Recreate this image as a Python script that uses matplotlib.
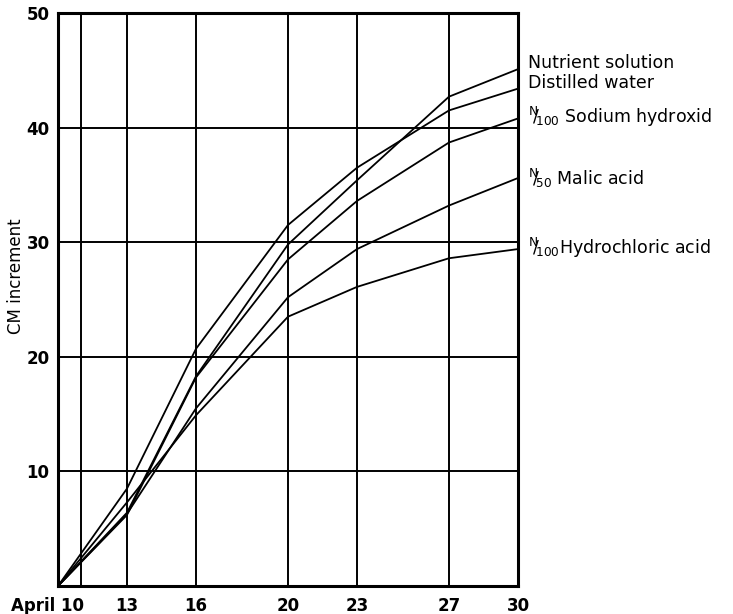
import matplotlib
matplotlib.use("Agg")
import matplotlib.pyplot as plt
import matplotlib.transforms as mtransforms

# ---- data ----
days = [10, 13, 16, 20, 23, 27, 30]
nutrient = [0, 6.4, 18.3, 29.8, 35.4, 42.7, 45.1]
distilled = [0, 8.5, 20.7, 31.5, 36.5, 41.5, 43.4]
sodium = [0, 6.2, 18.2, 28.5, 33.6, 38.7, 40.8]
malic = [0, 6.3, 15.5, 25.2, 29.4, 33.2, 35.6]
hcl = [0, 7.3, 14.9, 23.5, 26.1, 28.6, 29.4]

x_ticks = [11, 13, 16, 20, 23, 27, 30]
x_labels = ["April 10", "13", "16", "20", "23", "27", "30"]
y_ticks = [10, 20, 30, 40, 50]
y_labels = ["10", "20", "30", "40", "50"]

series = [nutrient, distilled, sodium, malic, hcl]
series_labels = [
    "Nutrient solution",
    "Distilled water",
    r"$^{\mathregular{N}}\!\!/\!_{\mathregular{100}}$ Sodium hydroxid",
    r"$^{\mathregular{N}}\!\!/\!_{\mathregular{50}}$ Malic acid",
    r"$^{\mathregular{N}}\!\!/\!_{\mathregular{100}}$Hydrochloric acid",
]
label_y = [45.6, 43.9, 40.9, 35.6, 29.5]

plt.rcParams['font.family'] = ['DejaVu Sans']

fig = plt.figure(figsize=(7.33, 6.14), dpi=100)
ax = fig.add_axes([58/733, 1-586/614, 460/733, 573/614])

ax.set_xlim(10, 30)
ax.set_ylim(0, 50)

for vals in series:
    ax.plot(days, vals, color='black', lw=1.3, solid_joinstyle='miter', zorder=3)

ax.set_xticks(x_ticks, x_labels)
ax.set_yticks(y_ticks, y_labels)
ax.tick_params(axis='both', length=0, labelsize=12, colors='black')
ax.tick_params(axis='x', pad=8)
ax.tick_params(axis='y', pad=6)
for t in ax.get_xticklabels() + ax.get_yticklabels():
    t.set_fontweight('bold')

first = ax.get_xticklabels()[0]
first.set_horizontalalignment('right')
first.set_transform(first.get_transform() + mtransforms.ScaledTranslation(3/100, 0, fig.dpi_scale_trans))

ax.grid(True, color='black', lw=1.4)
ax.set_axisbelow(True)
for s in ax.spines.values():
    s.set_linewidth(2.2)
    s.set_color('black')

ax.set_ylabel("CM increment", fontsize=12)
ax.yaxis.set_label_coords(-0.072, 0.54)

for lab, yv in zip(series_labels, label_y):
    ax.annotate(lab, xy=(30, yv), xycoords='data', xytext=(7, 0), textcoords='offset points',
                fontsize=12.5, va='center', ha='left',
                annotation_clip=False)

fig.savefig("out.png", dpi=100)
